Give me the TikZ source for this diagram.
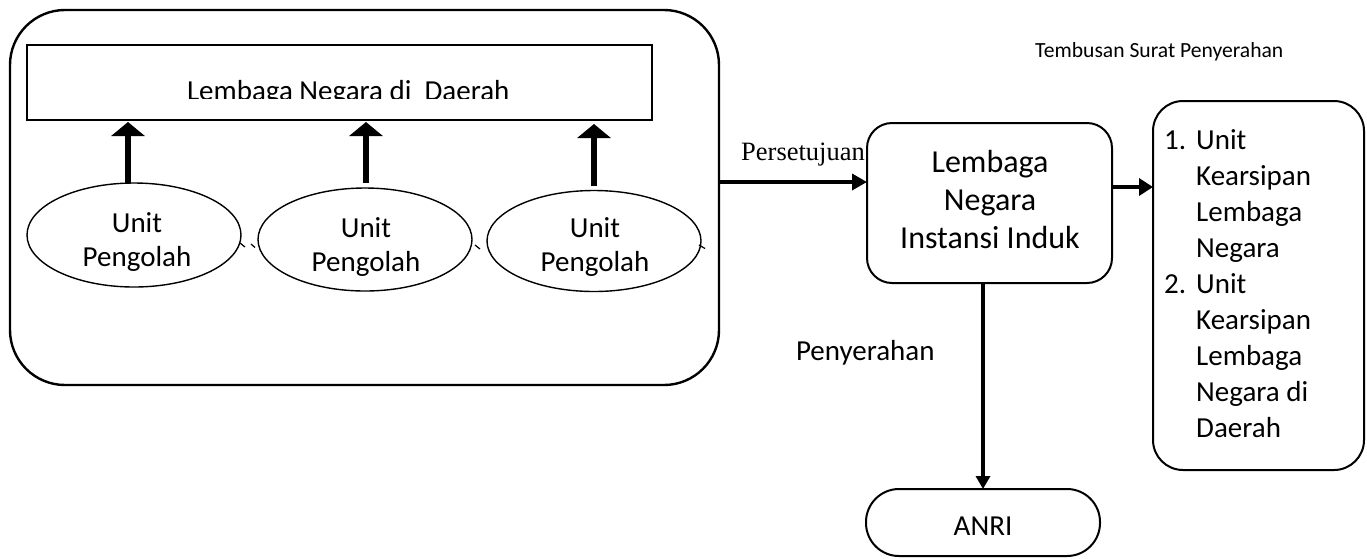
\documentclass[tikz,border=0pt]{standalone}
\usepackage{fontspec}
\setmainfont{Carlito}
\newfontfamily\serifface{Liberation Serif}
\usetikzlibrary{arrows.meta,shapes.geometric}

\begin{document}
\begin{tikzpicture}[x=1pt,y=-1pt,
  frame/.style={draw, line width=2pt, rounded corners=#1, inner sep=0pt, outer sep=0pt},
  unitell/.style={draw, ellipse, line width=1.4pt, inner sep=0pt, outer sep=0pt,
    minimum width=214pt},
  txt/.style={inner sep=0pt, outer sep=0pt, font=\fontsize{29}{34}\selectfont},
  uparrow/.style={line width=5.5pt, -{Triangle[width=33pt,length=14pt]}},
  flow/.style={line width=3.5pt, -{Triangle[width=16pt,length=15pt]}},
]
\useasboundingbox (0,0) rectangle (1367,558);

% outer group: regional state institution with its processing units
\node[frame=55pt, line width=2.4pt, minimum width=709pt, minimum height=375pt] (big) at (364.5,197.5) {};
\node[draw, line width=1.5pt, inner sep=0pt, outer sep=0pt, minimum width=625pt, minimum height=75pt] (inner) at (339.5,82.5) {};
\begin{scope}
  \clip (27,45) rectangle (652,98.5);
  \node[txt, anchor=base west] (innertext) at (187,100) {Lembaga Negara di\ \ Daerah};
\end{scope}

% processing units
\node[unitell, minimum height=104pt] (e1) at (134,235) {};
\node[unitell, minimum height=103pt] (e2) at (365,239.5) {};
\node[unitell, minimum height=101pt] (e3) at (594,241) {};
\node[txt, anchor=base] (t1) at (137,232) {\begin{tabular}[t]{@{}c@{}}Unit\\Pengolah\end{tabular}};
\node[txt, anchor=base] (t2) at (366,237) {\begin{tabular}[t]{@{}c@{}}Unit\\Pengolah\end{tabular}};
\node[txt, anchor=base] (t3) at (595,237) {\begin{tabular}[t]{@{}c@{}}Unit\\Pengolah\end{tabular}};

% small strokes beside the ellipses
\draw[line width=1.2pt] (240,243) -- (245,247);
\draw[line width=1.2pt] (251,244) -- (255,247.5);
\draw[line width=1.2pt] (475,245) -- (480,249);
\draw[line width=1.2pt] (699,245) -- (705,248.5);

% reporting arrows from the units
\draw[uparrow] ([xshift=-6pt]e1.north) -- ([xshift=-6pt,yshift=-2pt]e1.north |- inner.south);
\draw[uparrow, shorten <=5pt] ([xshift=1pt]e2.north) -- ([xshift=1pt,yshift=-2pt]e2.north |- inner.south);
\draw[uparrow, shorten <=5pt] (e3.north) -- ([yshift=-4pt]e3.north |- inner.south);

% parent institution
\node[frame=25pt, minimum width=245pt, minimum height=160pt] (mid) at (989.5,203) {};
\node[anchor=base, inner sep=0pt, font=\fontsize{32}{38}\selectfont] (midtext) at (990,172)
  {\begin{tabular}[t]{@{}c@{}}Lembaga\\Negara\\Instansi Induk\end{tabular}};

% copy recipients
\node[frame=30pt, minimum width=211pt, minimum height=369pt] (copies) at (1258.5,285.5) {};
\node[anchor=base west, inner sep=0pt, font=\fontsize{29}{36}\selectfont] (copiestext) at (1164,149)
  {\begin{tabular}[t]{@{}l@{}}\makebox[32pt][l]{1.}Unit\\\hspace*{32pt}Kearsipan\\\hspace*{32pt}Lembaga\\\hspace*{32pt}Negara\\
   \makebox[32pt][l]{2.}Unit\\\hspace*{32pt}Kearsipan\\\hspace*{32pt}Lembaga\\\hspace*{32pt}Negara di\\\hspace*{32pt}Daerah\end{tabular}};

% national archive
\node[frame=33pt, minimum width=234pt, minimum height=67pt, txt, text height=26pt, text depth=0pt] (anri) at (983,522.5) {ANRI};

% connectors and their labels
\draw[flow] ([yshift=15.5pt]big.east) -- ([yshift=15.5pt]big.east -| mid.west);
\node[anchor=base west, inner sep=0pt, font=\serifface\fontsize{26.5}{30}\selectfont] (lblagree) at (741,160) {Persetujuan};
\draw[line width=4.5pt, -{Triangle[width=17pt,length=14pt]}] ([yshift=16pt]mid.east) -- ([yshift=16pt]mid.east -| copies.west);
\draw[line width=4pt, -{Triangle[width=14pt,length=13pt]}] (mid.south -| anri.north) -- (anri.north);
\node[anchor=base west, txt] (lblhand) at (796,360) {Penyerahan};
\node[anchor=base west, inner sep=0pt, font=\fontsize{21.6}{25}\selectfont] (lblcopy) at (1035,57) {Tembusan Surat Penyerahan};
\end{tikzpicture}
\end{document}
